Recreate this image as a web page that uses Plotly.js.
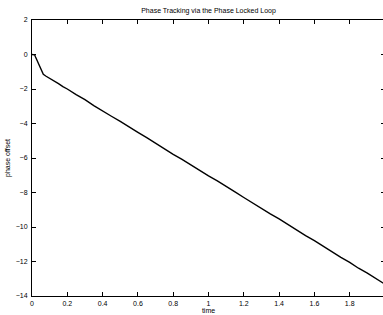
<!DOCTYPE html>
<html>
<head>
<meta charset="utf-8">
<script src="https://cdn.plot.ly/plotly-3.0.1.min.js"></script>
<style>html,body{margin:0;padding:0;background:#fff;overflow:hidden;}#chart{width:385px;height:315px;}</style>
</head>
<body>
<div id="chart"></div>
<script>
var time = [0, 0.01, 0.015, 0.02, 0.03, 0.04, 0.05, 0.064, 0.08, 0.10, 0.125, 0.15, 0.175, 0.20, 0.25, 0.30, 0.35, 0.40, 0.45, 0.50, 0.55, 0.60, 0.65, 0.70, 0.75, 0.80, 0.85, 0.90, 0.95, 1.00, 1.05, 1.10, 1.15, 1.20, 1.25, 1.30, 1.35, 1.40, 1.45, 1.50, 1.55, 1.60, 1.65, 1.70, 1.75, 1.80, 1.85, 1.90, 1.95, 2.00];
var phaseOffset = [0, 0, -0.02, -0.15, -0.38, -0.62, -0.86, -1.15, -1.26, -1.37, -1.55, -1.69, -1.86, -2.00, -2.33, -2.62, -2.96, -3.25, -3.58, -3.88, -4.22, -4.51, -4.82, -5.16, -5.45, -5.79, -6.08, -6.41, -6.70, -7.04, -7.33, -7.67, -7.96, -8.29, -8.62, -8.90, -9.24, -9.53, -9.87, -10.16, -10.50, -10.79, -11.12, -11.42, -11.76, -12.05, -12.39, -12.67, -13.01, -13.32];
var titleText = 'Phase Tracking via the Phase Locked Loop';
var xLabel = 'time';
var yLabel = 'phase offset';
var xTicks = [0, 0.2, 0.4, 0.6, 0.8, 1, 1.2, 1.4, 1.6, 1.8, 2];
var yTicks = [-14, -12, -10, -8, -6, -4, -2, 0, 2];

var fnt = {family: 'Liberation Sans, Arial, Helvetica, sans-serif', size: 7, color: '#000'};
var axisCommon = {
  showgrid: false, zeroline: false, showline: true, linecolor: '#000', linewidth: 1,
  mirror: 'ticks', ticks: 'inside', ticklen: 4, tickwidth: 1, tickcolor: '#000',
  tickfont: fnt, automargin: false, ticklabeloverflow: 'allow'
};
var layout = {
  width: 385, height: 315,
  margin: {l: 32, r: 0, t: 20, b: 19},
  paper_bgcolor: '#fff', plot_bgcolor: '#fff',
  showlegend: false,
  font: fnt,
  title: {text: titleText, font: {family: fnt.family, size: 7, color: '#000'}, x: 0.5, xref: 'paper', xanchor: 'center', y: 0.966, yref: 'container', yanchor: 'middle'},
  xaxis: Object.assign({}, axisCommon, {range: [0, 2], tickvals: xTicks, ticktext: xTicks.map(String), ticklabelstandoff: 1,
    title: {text: xLabel, font: fnt, standoff: 1}}),
  yaxis: Object.assign({}, axisCommon, {range: [-14, 2], tickvals: yTicks, ticklabelstandoff: 2,
    title: {text: yLabel, font: fnt, standoff: 4}})
};
var data = [{x: time, y: phaseOffset, type: 'scatter', mode: 'lines', line: {color: '#000', width: 1.4}, hoverinfo: 'skip'}];
Plotly.newPlot('chart', data, layout, {staticPlot: true, displayModeBar: false});
</script>
</body>
</html>
